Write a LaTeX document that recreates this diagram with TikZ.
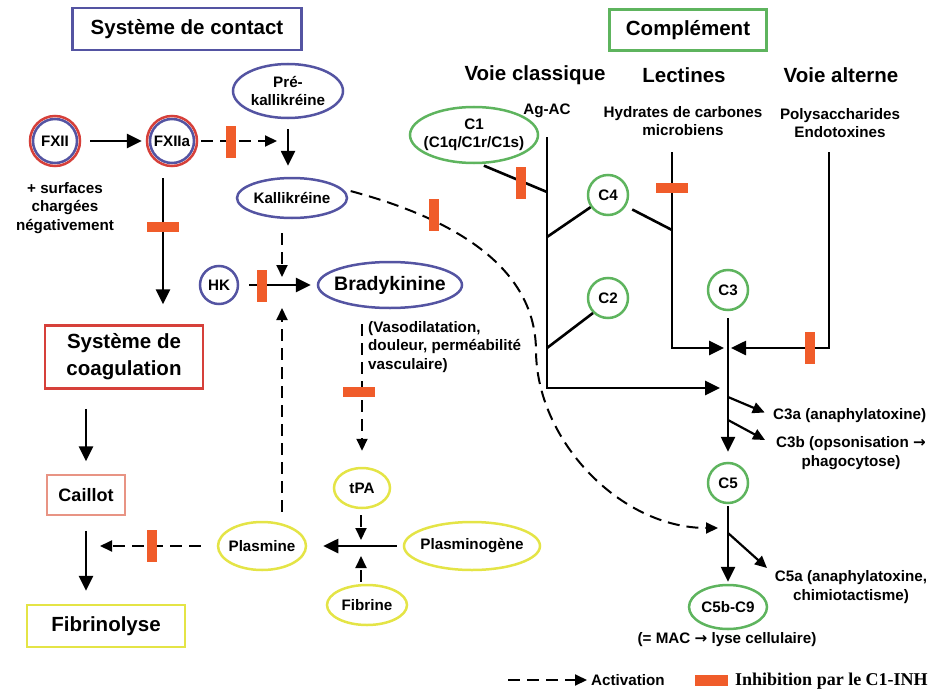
\documentclass[tikz,border=0pt]{standalone}
\usepackage{fontspec}
\setmainfont{Liberation Sans}
\newfontfamily\serifgras{Liberation Serif}
\newfontfamily\flechefont{DejaVu Sans}
\usepackage{tikz}
\usetikzlibrary{arrows.meta,shapes.geometric}

\definecolor{bleu}{RGB}{84,84,162}
\definecolor{rouge}{RGB}{214,64,58}
\definecolor{vert}{RGB}{94,180,94}
\definecolor{jaune}{RGB}{228,228,70}
\definecolor{orange}{RGB}{240,92,42}
\definecolor{saumon}{RGB}{232,148,132}

\newcommand{\grand}{\fontsize{20.5}{27}\selectfont\bfseries}
\newcommand{\moyen}{\fontsize{19.5}{23}\selectfont\bfseries}
\newcommand{\petit}{\fontsize{15.2}{18.5}\selectfont\bfseries}
\newcommand{\fl}{{\flechefont\bfseries →}}

\tikzset{
  Texte/.style={font=\petit,align=center,inner sep=0pt},
  Titre/.style={draw,line width=2.5pt,font=\grand,align=center,inner sep=0pt},
  Ovale/.style={ellipse,line width=2.5pt,font=\petit,align=center,inner xsep=-5pt,inner ysep=0pt},
  Rond/.style={circle,line width=2.5pt,font=\petit,inner sep=0pt,minimum size=40pt},
  Inhib/.style={fill=orange,inner sep=0pt,minimum width=10pt,minimum height=32pt},
  InhibH/.style={Inhib,minimum width=32pt,minimum height=10pt},
  Trait/.style={line width=2.6pt},
  Fleche/.style={line width=2.6pt,-{Triangle[length=15pt,width=14pt]}},
  FlecheP/.style={line width=2.2pt,-{Triangle[length=12pt,width=11pt]}},
  Tirets/.style={line width=2pt,dash pattern=on 12pt off 7pt,-{Triangle[length=12pt,width=11pt]}}
}

\begin{document}
\begin{tikzpicture}[x=1pt,y=-1pt]
            \useasboundingbox (0,0) rectangle (931,698);

            \tikzset{Bord/.style={draw=bleu}};
            \node[Titre,Bord,minimum width=229pt,minimum height=42pt] (contact) at (187,29) {Système de contact};
            \node[Rond,Bord,minimum size=44pt] (fxii) at (55,141) {FXII};
            \node[Rond,Bord,minimum size=44pt] (fxiia) at (172,141) {FXIIa};
            \node[Ovale,Bord,minimum width=110pt,minimum height=54pt] (prekall) at (288,91) {Pré-\\kallikréine};
            \node[Ovale,Bord,minimum width=110pt,minimum height=40pt] (kall) at (292,198) {Kallikréine};
            \node[Rond,Bord,minimum size=38pt] (hk) at (219,285) {HK};
            \node[Ovale,Bord,minimum width=144pt,minimum height=46pt,font=\moyen] (brady) at (390,285) {Bradykinine};
            \foreach \n in {fxii,fxiia}
              \draw[rouge,line width=2.5pt] (\n) circle[radius=25pt];

            \tikzset{Bord/.style={draw=rouge}};
            \node[Titre,Bord,minimum width=158pt,minimum height=63pt] (coag) at (124,357) {Système de\\coagulation};
            \node[Titre,draw=saumon,line width=1.5pt,minimum width=78pt,minimum height=40pt,font=\fontsize{18}{22}\selectfont\bfseries] (caillot) at (86,495) {Caillot};

            \tikzset{Bord/.style={draw=jaune}};
            \node[Titre,Bord,minimum width=158pt,minimum height=42pt] (fibrino) at (106,626) {Fibrinolyse};
            \node[Ovale,Bord,minimum width=56pt,minimum height=40pt] (tpa) at (362,488) {tPA};
            \node[Ovale,Bord,minimum width=88pt,minimum height=48pt] (plasmine) at (262,546) {Plasmine};
            \node[Ovale,Bord,minimum width=136pt,minimum height=48pt] (plasminogene) at (472,546) {Plasminogène};
            \node[Ovale,Bord,minimum width=80pt,minimum height=40pt] (fibrine) at (367,605) {Fibrine};

            \tikzset{Bord/.style={draw=vert}};
            \node[Titre,Bord,minimum width=157pt,minimum height=41pt] (complement) at (688,30) {Complément};
            \node[Ovale,Bord,minimum width=128pt,minimum height=56pt] (c1) at (474,135) {C1\\(C1q/C1r/C1s)};
            \node[Rond,Bord] (c4) at (608,195) {C4};
            \node[Rond,Bord] (c2) at (608,298) {C2};
            \node[Rond,Bord] (c3) at (728,290) {C3};
            \node[Rond,Bord] (c5) at (728,483) {C5};
            \node[Ovale,Bord,minimum width=78pt,minimum height=44pt] (c5b) at (728,607) {C5b-C9};

            \node[Texte] (surfaces) at (65,208) {+ surfaces\\chargées\\négativement};
            \node[Texte,align=left,anchor=west] (vaso) at (368,347) {(Vasodilatation,\\douleur, perméabilité\\vasculaire)};
            \node[Texte,font=\grand] (classique) at (535,75) {Voie classique};
            \node[Texte,font=\grand] (lectines) at (684,75) {Lectines};
            \node[Texte,font=\grand] (alterne) at (841,75) {Voie alterne};
            \node[Texte] (agac) at (547,111) {Ag-AC};
            \node[Texte] (hydrates) at (683,121) {Hydrates de carbones\\microbiens};
            \node[Texte] (polysacch) at (840,123) {Polysaccharides\\Endotoxines};
            \node[Texte,anchor=west] (c3a) at (773,416) {C3a (anaphylatoxine)};
            \node[Texte] (c3b) at (851,453) {C3b (opsonisation \fl\\phagocytose)};
            \node[Texte] (c5a) at (851,587) {C5a (anaphylatoxine,\\chimiotactisme)};
            \node[Texte] (mac) at (727,640) {(= MAC \fl{} lyse cellulaire)};

            \coordinate (pkj) at (288,141);
            \coordinate (hkj) at (282,285);
            \coordinate (pj) at (361,546);
            \coordinate (fibj) at (85,546);
            \coordinate (cl1) at (547,137);
            \coordinate (cl2) at (547,192);
            \coordinate (cl3) at (547,237);
            \coordinate (cl4) at (547,348);
            \coordinate (cl5) at (547,388);
            \coordinate (le1) at (672,152);
            \coordinate (le2) at (672,230);
            \coordinate (le3) at (672,348);
            \coordinate (al1) at (829,152);
            \coordinate (al2) at (829,348);
            \coordinate (c3j) at (728,348);
            \coordinate (c3a0) at (728,397);
            \coordinate (c3b0) at (728,420);
            \coordinate (c3bt) at (765,440);
            \coordinate (c5j) at (728,528);
            \coordinate (c5a0) at (728,533);
            \coordinate (c5at) at (767,568);

            \draw[Fleche,shorten <=12pt,shorten >=7pt] (fxii) -- (fxiia);
            \draw[Tirets,shorten <=6pt,shorten >=11pt] (fxiia) -- (pkj);
            \draw[Fleche,shorten <=10pt,shorten >=11pt] (prekall) -- (prekall |- kall.north);
            \draw[Tirets,shorten <=14pt,shorten >=8pt] (kall.south -| hkj) -- (hkj);
            \draw[Fleche,shorten <=10pt,shorten >=6pt] (hk) -- (brady);
            \draw[Tirets,shorten <=9pt,shorten >=23pt] (plasmine.north -| hkj) -- (hkj);
            \draw[Tirets,shorten <=15pt,shorten >=16pt] (brady.south -| tpa.north) -- (tpa.north);
            \draw[Tirets,shorten <=6pt,shorten >=6pt] (tpa.south -| pj) -- (pj);
            \draw[Tirets,shorten <=2pt,shorten >=10pt] (fibrine.north -| pj) -- (pj);
            \draw[Fleche,shorten <=6pt,shorten >=16pt] (plasminogene) -- (plasmine);
            \draw[Tirets,shorten <=16pt,shorten >=15pt] (plasmine) -- (fibj);
            \draw[Fleche,shorten <=14pt,shorten >=20pt] ([xshift=-9pt]fxiia.south) -- ([xshift=-9pt]fxiia.south |- coag.north);
            \draw[Fleche,shorten <=19pt,shorten >=13pt] (coag.south -| caillot) -- (caillot);
            \draw[Fleche,shorten <=15pt,shorten >=13pt] (caillot) -- (caillot |- fibrino.north);

            \draw[Tirets,shorten <=8pt] (kall.10) .. controls (440,215) and (535,260) .. (536,350)
              .. controls (536,440) and (620,528) .. ([xshift=-10pt]c5j);

            \draw[Trait,shorten <=4pt] (c1.-78) -- (cl2);
            \draw[Fleche,shorten >=8pt] (cl1) -- (cl5) -- (cl5 -| c3);
            \draw[Trait] (c4.215) -- (cl3);
            \draw[Trait,shorten <=7pt] (c4.-32) -- (le2);
            \draw[Trait] (c2.225) -- (cl4);
            \draw[Fleche,shorten >=4pt] (le1) -- (le3) -- (c3j);
            \draw[Fleche,shorten >=3pt] (al1) -- (al2) -- (c3j);
            \draw[Fleche,shorten <=7pt,shorten >=10pt] (c3) -- (c5);
            \draw[FlecheP,shorten >=9pt] (c3a0) -- (c3a.west);
            \draw[FlecheP] (c3b0) -- (c3bt);
            \draw[Fleche,shorten <=2pt,shorten >=2pt] (c5) -- (c5b);
            \draw[FlecheP] (c5a0) -- (c5at);

            \node[Inhib] (i1) at (231,142) {};
            \node[Inhib] (i2) at (262,286) {};
            \node[InhibH] (i3) at (359,392) {};
            \node[Inhib] (i4) at (152,546) {};
            \node[Inhib] (i5) at (434,215) {};
            \node[InhibH] (i6) at (163,227) {};
            \node[Inhib] (i7) at (521,183) {};
            \node[InhibH] (i8) at (672,188) {};
            \node[Inhib] (i9) at (810,348) {};

            \coordinate (leg) at (508,680);
            \node[Texte,anchor=west] (activ) at (591,680) {Activation};
            \draw[Tirets] (leg) -- ([xshift=-4pt]activ.west);
            \node[InhibH,minimum width=33pt,minimum height=11pt] (legbar) at (711,680) {};
            \node[anchor=west,inner sep=0pt,font=\serifgras\fontsize{18}{20}\selectfont\bfseries] (leginhib) at (735,681) {Inhibition par le C1-INH};
          \end{tikzpicture}
\end{document}
